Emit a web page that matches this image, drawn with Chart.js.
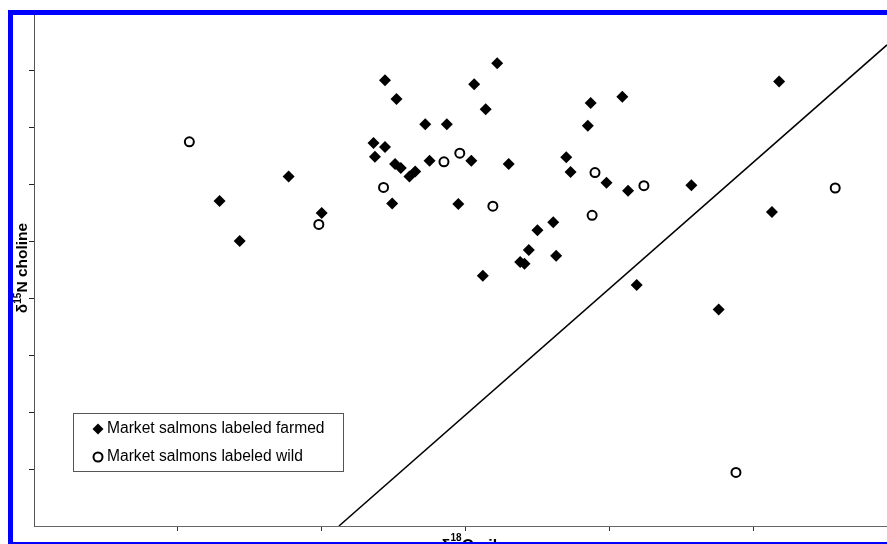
<!DOCTYPE html>
<html>
<head>
<meta charset="utf-8">
<script src="https://cdn.jsdelivr.net/npm/chart.js"></script>
<style>
  html, body { margin: 0; padding: 0; background: #fff; overflow: hidden; }
  canvas { display: block; }
</style>
</head>
<body>
<canvas id="chart" width="887" height="544"></canvas>
<script>
// values (one tick = 1 unit, axes have no numbers)
const farmedX = [1.29, 1.43, 1.77, 2.00, 2.44, 2.52, 2.36, 2.44, 2.37, 2.51, 2.55, 2.65, 2.61, 2.49,
  2.72, 2.87, 2.75, 2.95, 3.04, 3.06, 3.14, 3.22, 3.30, 3.12, 3.38, 3.41, 3.44, 3.50, 3.61, 3.63,
  3.70, 3.73, 3.85, 3.87, 3.98, 4.09, 4.13, 4.19, 4.57, 4.76, 5.13, 5.18];
const farmedY = [5.70, 5.00, 6.13, 5.49, 7.82, 7.49, 6.72, 6.65, 6.48, 6.35, 6.28, 6.22, 6.13, 5.66,
  7.05, 7.05, 6.41, 5.65, 6.41, 7.75, 7.31, 8.12, 6.35, 4.39, 4.63, 4.60, 4.84, 5.19, 5.33, 4.74,
  6.47, 6.21, 7.02, 7.42, 6.02, 7.53, 5.88, 4.23, 5.98, 3.80, 5.51, 7.80];

const wildX = [1.08, 1.98, 2.43, 2.85, 2.96, 3.19, 3.90, 3.88, 4.24, 5.57, 4.88];
const wildY = [6.74, 5.29, 5.94, 6.39, 6.54, 5.61, 6.20, 5.45, 5.97, 5.93, 0.94];

// separating line
const boundaryX = [2.12, 5.93];
const boundaryY = [0, 8.44];

const xTickValues = [1, 2, 3, 4, 5];
const yTickValues = [1, 2, 3, 4, 5, 6, 7, 8];
const xMax = 5.93;
const yMax = 9;

const farmedLabel = 'Market salmons labeled farmed';
const wildLabel = 'Market salmons labeled wild';

const toPoints = (xs, ys) => xs.map((x, i) => ({ x: x, y: ys[i] }));

function diamond(ctx, x, y, r) {
  ctx.beginPath();
  ctx.moveTo(x, y - r);
  ctx.lineTo(x + r, y);
  ctx.lineTo(x, y + r);
  ctx.lineTo(x - r, y);
  ctx.closePath();
  ctx.fillStyle = '#000';
  ctx.fill();
}

function ring(ctx, x, y, r) {
  ctx.beginPath();
  ctx.arc(x, y, r, 0, Math.PI * 2);
  ctx.fillStyle = '#fff';
  ctx.fill();
  ctx.lineWidth = 2;
  ctx.strokeStyle = '#000';
  ctx.stroke();
}

// legend box, axis titles and the blue frame
const decorations = {
  id: 'decorations',
  afterDraw(chart) {
    const ctx = chart.ctx;
    ctx.save();

    // legend
    ctx.fillStyle = '#fff';
    ctx.fillRect(73.5, 413.5, 270, 58);
    ctx.lineWidth = 1;
    ctx.strokeStyle = '#555';
    ctx.strokeRect(73.5, 413.5, 270, 58);
    diamond(ctx, 98, 429, 5.5);
    ring(ctx, 98, 457, 4.5);
    ctx.fillStyle = '#000';
    ctx.font = '15.6px "Liberation Sans", Arial, sans-serif';
    ctx.textBaseline = 'middle';
    ctx.textAlign = 'left';
    ctx.fillText(chart.data.datasets[0].label, 107, 429);
    ctx.fillText(chart.data.datasets[1].label, 107, 457);

    // y title
    ctx.save();
    ctx.translate(27, 268);
    ctx.rotate(-Math.PI / 2);
    ctx.textBaseline = 'alphabetic';
    const big = 'bold 15.5px "Liberation Sans", Arial, sans-serif';
    const small = 'bold 10px "Liberation Sans", Arial, sans-serif';
    ctx.font = big;
    const wD = ctx.measureText('δ').width;
    const wN = ctx.measureText('N choline').width;
    ctx.font = small;
    const w15 = ctx.measureText('15').width;
    let px = -(wD + w15 + wN) / 2;
    ctx.font = big;
    ctx.fillText('δ', px, 0);
    px += wD;
    ctx.font = small;
    ctx.fillText('15', px, -6);
    px += w15;
    ctx.font = big;
    ctx.fillText('N choline', px, 0);
    ctx.restore();

    // x title (cut by the frame)
    ctx.font = 'bold 16px "Liberation Sans", Arial, sans-serif';
    const xD = ctx.measureText('δ').width;
    const xO = ctx.measureText('O oil').width;
    ctx.font = 'bold 10px "Liberation Sans", Arial, sans-serif';
    const x18 = ctx.measureText('18').width;
    let qx = 469 - (xD + x18 + xO) / 2;
    ctx.textBaseline = 'alphabetic';
    ctx.font = 'bold 16px "Liberation Sans", Arial, sans-serif';
    ctx.fillText('δ', qx, 551);
    qx += xD;
    ctx.font = 'bold 10px "Liberation Sans", Arial, sans-serif';
    ctx.fillText('18', qx, 541);
    qx += x18;
    ctx.font = 'bold 16px "Liberation Sans", Arial, sans-serif';
    ctx.fillText('O oil', qx, 551);

    // blue frame
    ctx.fillStyle = '#0000ff';
    ctx.fillRect(8, 10, 879, 5);
    ctx.fillRect(8, 10, 5, 534);
    ctx.fillRect(8, 542, 879, 2);
    ctx.restore();
  }
};

const config = {
  type: 'scatter',
  data: {
    datasets: [
      {
        label: farmedLabel,
        data: toPoints(farmedX, farmedY),
        pointStyle: 'rectRot',
        pointRadius: 6,
        pointHoverRadius: 6,
        backgroundColor: '#000',
        borderColor: '#000',
        borderWidth: 0,
      },
      {
        label: wildLabel,
        data: toPoints(wildX, wildY),
        pointStyle: 'circle',
        pointRadius: 4.5,
        pointHoverRadius: 4.5,
        backgroundColor: '#fff',
        borderColor: '#000',
        borderWidth: 2,
      },
      {
        label: 'boundary',
        data: toPoints(boundaryX, boundaryY),
        showLine: true,
        pointRadius: 0,
        borderColor: '#000',
        borderWidth: 1.5,
        fill: false,
      },
    ],
  },
  options: {
    responsive: false,
    animation: false,
    devicePixelRatio: 1,
    layout: { autoPadding: false, padding: { left: 0, right: 0, top: 13, bottom: 0 } },
    scales: {
      x: {
        type: 'linear',
        min: 0,
        max: xMax,
        afterBuildTicks: s => { s.ticks = xTickValues.map(v => ({ value: v })); },
        afterFit: s => { s.height = 18; },
        ticks: { display: false },
        grid: { drawOnChartArea: false, drawTicks: true, tickLength: 5, color: '#333', lineWidth: 1 },
        border: { display: true, color: '#666', width: 1 },
      },
      y: {
        type: 'linear',
        min: 0,
        max: yMax,
        afterBuildTicks: s => { s.ticks = yTickValues.map(v => ({ value: v })); },
        afterFit: s => { s.width = 34; },
        ticks: { display: false },
        grid: { drawOnChartArea: false, drawTicks: true, tickLength: 5, color: '#222', lineWidth: 1 },
        border: { display: true, color: '#555', width: 1 },
      },
    },
    plugins: {
      legend: { display: false },
      tooltip: { enabled: false },
    },
  },
  plugins: [decorations],
};

const ctx = document.getElementById('chart').getContext('2d');
new Chart(ctx, config);
</script>
</body>
</html>
